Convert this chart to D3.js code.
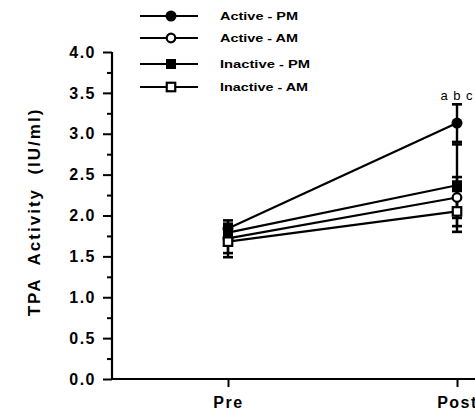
<!DOCTYPE html>
<html>
<head>
<meta charset="utf-8">
<script src="https://cdn.jsdelivr.net/npm/d3@7"></script>
<style>
  html, body { margin: 0; padding: 0; background: #fff; }
  svg { display: block; font-family: "Liberation Sans", Arial, sans-serif; }
</style>
</head>
<body>
<svg id="chart" width="475" height="413"></svg>
<script>
// data
const phases = ['Pre', 'Post'];
const seriesNames = ['Active - PM', 'Active - AM', 'Inactive - PM', 'Inactive - AM'];
const activePM = [1.84, 3.13];
const activePMse = [0.10, 0.23];
const activeAM = [1.72, 2.22];
const activeAMse = [0.18, 0.25];
const inactivePM = [1.79, 2.37];
const inactivePMse = [0.08, 0.50];
const inactiveAM = [1.68, 2.05];
const inactiveAMse = [0.19, 0.25];
const yTicks = [0, 0.5, 1, 1.5, 2, 2.5, 3, 3.5, 4];
const yMinorTicks = [0.25, 0.75, 1.25, 1.75, 2.25, 2.75, 3.25, 3.75];
const yTitle = 'TPA  Activity  (IU/ml)';
const postNote = 'a b c';

const series = [
  { name: seriesNames[0], values: activePM, se: activePMse, shape: 'circle', filled: true },
  { name: seriesNames[1], values: activeAM, se: activeAMse, shape: 'circle', filled: false },
  { name: seriesNames[2], values: inactivePM, se: inactivePMse, shape: 'square', filled: true },
  { name: seriesNames[3], values: inactiveAM, se: inactiveAMse, shape: 'square', filled: false },
];

const width = 475;
const axisX = 112;
const axisY = 379;

const svg = d3.select('#chart');

const x = d3.scalePoint().domain(phases).range([228, 457]);
const y = d3.scaleLinear().domain([0, 4]).range([axisY, 52]);

// y axis
const yAxis = svg.append('g')
  .attr('transform', `translate(${axisX},0)`)
  .call(d3.axisLeft(y).tickValues(yTicks).tickSize(9).tickPadding(7).tickFormat(d3.format('.1f')));
yAxis.select('.domain').attr('stroke-width', 2.2).attr('d', `M0,${y(4)}V${axisY}`);
yAxis.selectAll('.tick line').attr('stroke-width', 2);
yAxis.selectAll('.tick text')
  .attr('font-size', 16).attr('font-weight', 'bold')
  .attr('letter-spacing', '1.5px').attr('fill', '#000');

svg.append('g')
  .attr('transform', `translate(${axisX},0)`)
  .call(d3.axisLeft(y).tickValues(yMinorTicks).tickSize(5).tickFormat(''))
  .call(g => g.select('.domain').remove())
  .selectAll('.tick line').attr('stroke-width', 2);

// x axis
const xAxis = svg.append('g')
  .attr('transform', `translate(0,${axisY})`)
  .call(d3.axisBottom(x).tickSize(8).tickPadding(10));
xAxis.select('.domain').attr('stroke-width', 2.2).attr('d', `M${axisX},0H${width}`);
xAxis.selectAll('.tick line').attr('stroke-width', 2);
xAxis.selectAll('.tick text')
  .attr('font-size', 16).attr('font-weight', 'bold')
  .attr('letter-spacing', '1.5px').attr('fill', '#000');

// y title
svg.append('text')
  .attr('transform', 'translate(40,212) rotate(-90)')
  .attr('text-anchor', 'middle')
  .attr('font-size', 17).attr('font-weight', 'bold')
  .attr('letter-spacing', '2px')
  .attr('xml:space', 'preserve')
  .style('white-space', 'pre')
  .text(yTitle);

// lines
const line = d3.line()
  .x((d, i) => x(phases[i]))
  .y(d => y(d));

svg.append('g').selectAll('path')
  .data(series)
  .join('path')
  .attr('d', d => line(d.values))
  .attr('fill', 'none')
  .attr('stroke', '#000')
  .attr('stroke-width', 2.2);

// error bars
const errs = series.flatMap(s => s.values.map((v, i) => ({ x: x(phases[i]), lo: y(v - s.se[i]), hi: y(v + s.se[i]) })));
const eg = svg.append('g').attr('stroke', '#000').attr('stroke-width', 2.4);
eg.selectAll('.ev').data(errs).join('line')
  .attr('x1', d => d.x).attr('x2', d => d.x)
  .attr('y1', d => d.lo).attr('y2', d => d.hi);
eg.selectAll('.cap').data(errs.flatMap(d => [{ x: d.x, y: d.lo }, { x: d.x, y: d.hi }])).join('line')
  .attr('x1', d => d.x - 5).attr('x2', d => d.x + 5)
  .attr('y1', d => d.y).attr('y2', d => d.y)
  .attr('stroke-width', 2.6);

// markers
function drawMarker(g, shape, filled, cx, cy) {
  if (shape === 'circle') {
    g.append('circle')
      .attr('cx', cx).attr('cy', cy).attr('r', filled ? 5.5 : 4.3)
      .attr('fill', filled ? '#000' : '#fff')
      .attr('stroke', '#000').attr('stroke-width', filled ? 0 : 2.2);
  } else {
    const s = filled ? 10 : 8.5;
    g.append('rect')
      .attr('x', cx - s / 2).attr('y', cy - s / 2).attr('width', s).attr('height', s)
      .attr('fill', filled ? '#000' : '#fff')
      .attr('stroke', '#000').attr('stroke-width', filled ? 0 : 2.2);
  }
}

const mg = svg.append('g');
series.forEach(s => {
  s.values.forEach((v, i) => drawMarker(mg, s.shape, s.filled, x(phases[i]), y(v)));
});

// significance note above Post
svg.append('text')
  .attr('x', x('Post')).attr('y', 100)
  .attr('text-anchor', 'middle')
  .attr('font-size', 13)
  .attr('letter-spacing', '1px')
  .text(postNote);

// legend
const legendY = [16, 38, 64, 87];
const legendLen = [78, 78, 90, 88];
const lg = svg.append('g');
series.forEach((s, i) => {
  const g = lg.append('g').attr('transform', `translate(0,${legendY[i]})`);
  g.append('line').attr('x1', 140).attr('x2', 198).attr('y1', 0).attr('y2', 0)
    .attr('stroke', '#000').attr('stroke-width', 2.2);
  drawMarker(g, s.shape, s.filled, 171, 0);
  g.append('text')
    .attr('x', 220).attr('y', 4)
    .attr('font-size', 11.5).attr('font-weight', 'bold')
    .attr('textLength', legendLen[i]).attr('lengthAdjust', 'spacingAndGlyphs')
    .text(s.name);
});
</script>
</body>
</html>
